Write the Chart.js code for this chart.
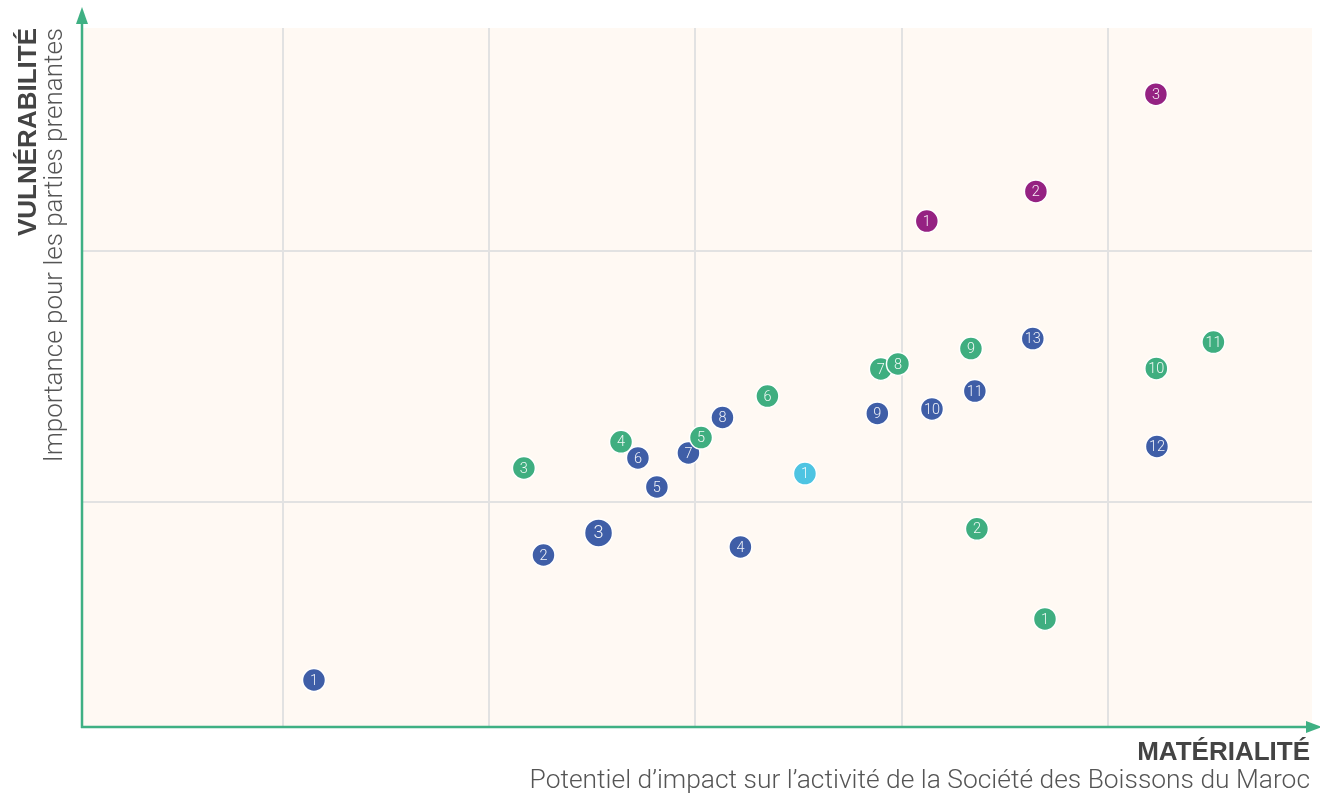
<!DOCTYPE html>
<html>
<head>
<meta charset="utf-8">
<script src="https://cdn.jsdelivr.net/npm/chart.js@4/dist/chart.umd.min.js"></script>
<style>
html,body{margin:0;padding:0;background:#fff;}
#wrap{position:relative;width:1320px;height:796px;}
</style>
</head>
<body>
<div id="wrap"><canvas id="c" width="1320" height="796"></canvas></div>
<script>
// Data (x = materiality, y = vulnerability, grid units)
const blueLabels = ['1','2','3','4','5','6','7','8','9','10','11','12','13'];
const blueX = [1.150, 2.263, 2.530, 3.218, 2.813, 2.721, 2.966, 3.131, 3.882, 4.147, 4.355, 5.238, 4.636];
const blueY = [0.292, 0.789, 0.877, 0.821, 1.060, 1.175, 1.195, 1.336, 1.352, 1.370, 1.441, 1.221, 1.650];

const greenLabels = ['1','2','3','4','5','6','7','8','9','10','11'];
const greenX = [4.695, 4.365, 2.168, 2.639, 3.027, 3.349, 3.899, 3.982, 4.336, 5.235, 5.512];
const greenY = [0.535, 0.893, 1.135, 1.239, 1.256, 1.421, 1.529, 1.549, 1.610, 1.531, 1.636];

const cyanLabels = ['1'];
const cyanX = [3.531];
const cyanY = [1.113];

const purpleLabels = ['1','2','3'];
const purpleX = [4.122, 4.651, 5.233];
const purpleY = [2.117, 2.235, 2.622];

const xTicks = [1, 2, 3, 4, 5];
const yTicks = [1, 2];

const toPts = (xs, ys) => xs.map((x, i) => ({x: x, y: ys[i]}));

const GREEN = '#3fae80';
const BLUE = '#3f5ea7';
const PURPLE = '#952282';
const CYAN = '#4ec4e2';
const AXIS = '#3fb083';

const bgPlugin = {
  id: 'bg',
  beforeDraw(chart) {
    const {ctx, chartArea: a} = chart;
    ctx.save();
    ctx.fillStyle = '#fff9f3';
    ctx.fillRect(a.left, a.top, a.right - a.left, a.bottom - a.top);
    ctx.restore();
  }
};

const labelPlugin = {
  id: 'ptlabels',
  afterDatasetsDraw(chart) {
    const ctx = chart.ctx;
    ctx.save();
    ctx.textAlign = 'center';
    ctx.textBaseline = 'middle';
    chart.data.datasets.forEach((ds, di) => {
      const meta = chart.getDatasetMeta(di);
      meta.data.forEach((el, i) => {
        const big = Array.isArray(ds.pointRadius) && ds.pointRadius[i] > 12;
        ctx.font = '300 ' + (big ? 18 : 14.5) + 'px Roboto, "Open Sans", sans-serif';
        ctx.fillStyle = 'rgba(255,255,255,0.92)';
        ctx.fillText(ds.labels[i], el.x, el.y + 1);
      });
    });
    ctx.restore();
  }
};

const axesPlugin = {
  id: 'axes',
  afterDraw(chart) {
    const {ctx, chartArea: a} = chart;
    ctx.save();
    ctx.strokeStyle = AXIS;
    ctx.fillStyle = AXIS;
    ctx.lineWidth = 2.5;
    // y axis
    ctx.beginPath();
    ctx.moveTo(a.left, a.bottom + 1);
    ctx.lineTo(a.left, 20);
    ctx.stroke();
    ctx.beginPath();
    ctx.moveTo(a.left, 7);
    ctx.lineTo(a.left - 6, 24);
    ctx.lineTo(a.left + 6, 24);
    ctx.closePath();
    ctx.fill();
    // x axis
    ctx.beginPath();
    ctx.moveTo(a.left - 1, a.bottom);
    ctx.lineTo(1310, a.bottom);
    ctx.stroke();
    ctx.beginPath();
    ctx.moveTo(1322, a.bottom);
    ctx.lineTo(1306, a.bottom - 6);
    ctx.lineTo(1306, a.bottom + 6);
    ctx.closePath();
    ctx.fill();

    // titles
    ctx.fillStyle = '#444';
    ctx.textBaseline = 'middle';
    ctx.textAlign = 'right';
    ctx.font = 'bold 26px "Liberation Sans", Arial, sans-serif';
    ctx.fillText('MATÉRIALITÉ', 1310, 753);
    ctx.fillStyle = '#555';
    ctx.font = '300 26.4px Roboto, "Open Sans", sans-serif';
    ctx.fillText('Potentiel d\u2019impact sur l\u2019activité de la Société des Boissons du Maroc', 1310, 781);

    ctx.save();
    ctx.translate(29, 28);
    ctx.rotate(-Math.PI / 2);
    ctx.textAlign = 'right';
    ctx.fillStyle = '#444';
    ctx.font = 'bold 26px "Liberation Sans", Arial, sans-serif';
    ctx.fillText('VULNÉRABILITÉ', 0, 0);
    ctx.restore();

    ctx.save();
    ctx.translate(55, 28);
    ctx.rotate(-Math.PI / 2);
    ctx.textAlign = 'right';
    ctx.fillStyle = '#555';
    ctx.font = '300 26px Roboto, "Open Sans", sans-serif';
    ctx.fillText('Importance pour les parties prenantes', 0, 0);
    ctx.restore();

    ctx.restore();
  }
};

const common = {borderColor: '#ffffff', pointBorderWidth: 1.5, pointHoverRadius: 11};

new Chart(document.getElementById('c'), {
  type: 'scatter',
  data: {
    datasets: [
      Object.assign({label: 'Environnement', labels: greenLabels, data: toPts(greenX, greenY),
        backgroundColor: GREEN, pointRadius: 11.5, pointBorderColor: '#fff'}, common),
      Object.assign({label: 'Social', labels: blueLabels, data: toPts(blueX, blueY),
        backgroundColor: BLUE, pointRadius: blueLabels.map(l => l === '3' ? 14 : 11.5), pointBorderColor: '#fff'}, common),
      Object.assign({label: 'Gouvernance', labels: cyanLabels, data: toPts(cyanX, cyanY),
        backgroundColor: CYAN, pointRadius: 11.5, pointBorderColor: '#fff'}, common),
      Object.assign({label: 'Économie', labels: purpleLabels, data: toPts(purpleX, purpleY),
        backgroundColor: PURPLE, pointRadius: 11.5, pointBorderColor: '#fff'}, common)
    ]
  },
  options: {
    responsive: false,
    animation: false,
    layout: {autoPadding: false, padding: {left: 82, right: 8, top: 28, bottom: 69}},
    plugins: {legend: {display: false}, tooltip: {enabled: false}},
    scales: {
      x: {
        type: 'linear', min: 0.025, max: 5.99,
        afterBuildTicks: s => { s.ticks = xTicks.map(v => ({value: v})); },
        ticks: {display: false},
        grid: {color: '#e2e2e2', lineWidth: 2, drawTicks: false},
        border: {display: false}
      },
      y: {
        type: 'linear', min: 0.105, max: 2.885,
        afterBuildTicks: s => { s.ticks = yTicks.map(v => ({value: v})); },
        ticks: {display: false},
        grid: {color: '#e2e2e2', lineWidth: 2, drawTicks: false},
        border: {display: false}
      }
    }
  },
  plugins: [bgPlugin, labelPlugin, axesPlugin]
});
</script>
</body>
</html>
